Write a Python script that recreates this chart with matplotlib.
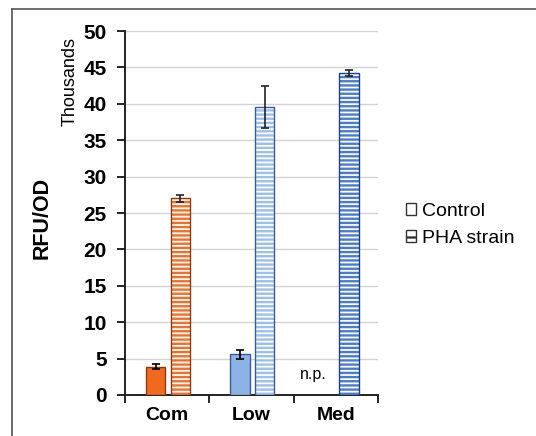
import numpy as np
import matplotlib
matplotlib.use("Agg")
import matplotlib.pyplot as plt
from matplotlib.lines import Line2D
from matplotlib.patches import Patch

# 数据（单位：千）
categories = ["Com", "Low", "Med"]
control = [3.9, 5.6, np.nan]
control_err = [0.3, 0.6, np.nan]
pha = [27.0, 39.6, 44.2]
pha_err = [0.5, 2.9, 0.4]

control_face = ["#F0691E", "#8DB3E6", "#4A7BD0"]
stripe_color = ["#F26F2A", "#9DBFEC", "#4A7BD0"]
edge_color = ["#8A3A10", "#3A5A96", "#1F3F7F"]

plt.rcParams["font.family"] = ["Liberation Sans", "DejaVu Sans"]
plt.rcParams["hatch.linewidth"] = 1.7

fig = plt.figure(figsize=(5.36, 4.36), dpi=100)
ax = fig.add_axes([125 / 536, 1 - 395 / 436, 253 / 536, 364 / 436])

x = np.arange(len(categories))
w = 0.23
xc = x - 0.137
xp = x + 0.155

# control 实心柱
for i in range(len(categories)):
    if np.isnan(control[i]):
        continue
    ax.bar(xc[i], control[i], w, color=control_face[i],
           edgecolor=edge_color[i], linewidth=1.0, zorder=3)

# PHA 条纹柱：先画条纹，再画外框
for i in range(len(categories)):
    ax.bar(xp[i], pha[i], w, color="white", edgecolor=stripe_color[i],
           hatch="----", linewidth=0, zorder=3)
    ax.bar(xp[i], pha[i], w, fill=False, edgecolor=edge_color[i],
           linewidth=1.0, zorder=4)

ax.errorbar(xc, control, yerr=control_err, fmt="none", ecolor="black",
            elinewidth=1.2, capsize=3, capthick=1.2, zorder=5)
ax.errorbar(xp, pha, yerr=pha_err, fmt="none", ecolor="#222222",
            elinewidth=1.2, capsize=3, capthick=1.2, zorder=5)

ax.text(2 - 0.27, 2.8, "n.p.", fontsize=11.5, ha="center", va="center")

ax.set_xlim(-0.5, 2.5)
ax.set_ylim(0, 50)
ax.set_yticks(np.arange(0, 51, 5))
ax.set_xticks(x)
ax.set_xticklabels(categories, fontsize=14, fontweight="bold")
ax.set_xticks([-0.5, 0.5, 1.5, 2.5], minor=True)
ax.tick_params(axis="x", which="major", length=0, pad=9)
ax.tick_params(axis="x", which="minor", length=6, width=1.2, direction="out")
ax.tick_params(axis="y", length=6, width=1.2, direction="out", pad=7)
for lab in ax.get_yticklabels():
    lab.set_fontsize(15)
    lab.set_fontweight("bold")

ax.grid(axis="y", color="#D3D3D3", linewidth=1.0, zorder=0)
ax.set_axisbelow(True)
for s in ["top", "right"]:
    ax.spines[s].set_visible(False)
for s in ["left", "bottom"]:
    ax.spines[s].set_linewidth(1.4)
    ax.spines[s].set_color("#222222")

fig.text(42 / 536, 1 - 218 / 436, "RFU/OD", rotation=90, fontsize=15.5,
         fontweight="bold", ha="center", va="center")
fig.text(70 / 536, 1 - 82 / 436, "Thousands", rotation=90, fontsize=13,
         ha="center", va="center")

handles = [
    Patch(facecolor="white", edgecolor="#333333", linewidth=1.0),
    Patch(facecolor="white", edgecolor="#333333", linewidth=1.0, hatch="--"),
]
fig.legend(handles, ["Control", "PHA strain"], loc="center left",
           bbox_to_anchor=(398 / 536, 1 - 225 / 436), frameon=False,
           fontsize=14, handlelength=0.55, handleheight=0.6,
           handletextpad=0.3, labelspacing=0.5, borderaxespad=0)

# 外框（只露出上、左两边）
fig.add_artist(Line2D([12 / 536, 1], [1 - 9 / 436, 1 - 9 / 436],
                      color="#555555", linewidth=1.2))
fig.add_artist(Line2D([12 / 536, 12 / 536], [0, 1 - 9 / 436],
                      color="#555555", linewidth=1.2))

fig.savefig("out.png", dpi=100)
